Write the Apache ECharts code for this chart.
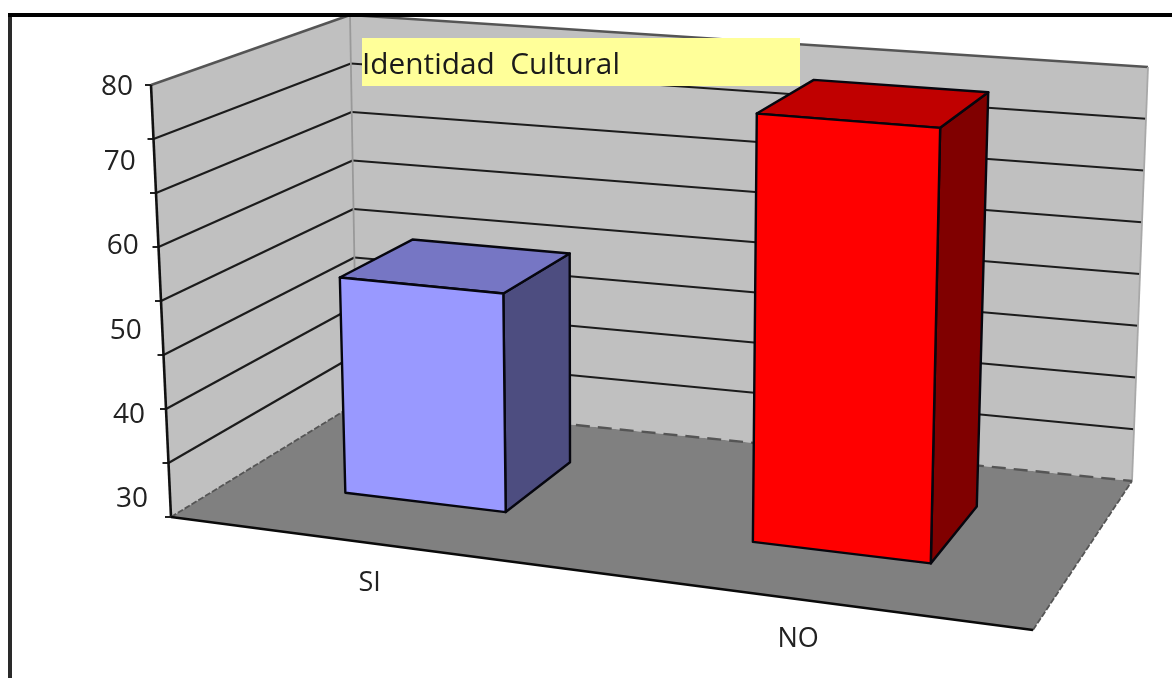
<!DOCTYPE html>
<html><head><meta charset="utf-8">
<script src="https://cdn.jsdelivr.net/npm/echarts@6/dist/echarts.min.js"></script>
<style>html,body{margin:0;padding:0;background:#fff}#c{width:1172px;height:678px;filter:blur(0.7px)}</style>
</head><body><div id="c"></div>
<script>
const titleText = 'Identidad  Cultural';
const categories = ['SI', 'NO'];
const values = [55.5, 78.8];
const yTicks = [30, 40, 50, 60, 70, 80];
const gridIntervals = 8;

// Perspective frame of the 3D box: [u=0,v=0],[u=1,v=0],[u=1,v=1],[u=0,v=1]
const floorCorners = [[171,517],[1033,630],[1132,481],[357,403]];
const topCorners = [[151,85],[1045,159],[1148,67],[350,15]];
const barHalfWidths = [0.105, 0.098], barDepth = [0.305, 0.705], barShift = 0.0115;

function homography(p) {
  const [p0,p1,p2,p3] = p;
  const dx1=p1[0]-p2[0], dx2=p3[0]-p2[0], sx=p0[0]-p1[0]+p2[0]-p3[0];
  const dy1=p1[1]-p2[1], dy2=p3[1]-p2[1], sy=p0[1]-p1[1]+p2[1]-p3[1];
  const den=dx1*dy2-dx2*dy1;
  const g=(sx*dy2-dx2*sy)/den, h=(dx1*sy-sx*dy1)/den;
  const a=p1[0]-p0[0]+g*p1[0], b=p3[0]-p0[0]+h*p3[0], c=p0[0];
  const d=p1[1]-p0[1]+g*p1[1], e=p3[1]-p0[1]+h*p3[1], f=p0[1];
  return (u,v)=>{const q=g*u+h*v+1;return [(a*u+b*v+c)/q,(d*u+e*v+f)/q];};
}
const floorH = homography(floorCorners), topH = homography(topCorners);
function P(u,v,w){const a=floorH(u,v),b=topH(u,v);return [a[0]+(b[0]-a[0])*w,a[1]+(b[1]-a[1])*w];}

const poly=(points,fill,stroke,lw,extra)=>({type:'polygon',shape:{points},style:Object.assign({fill:fill,stroke:stroke||null,lineWidth:lw||0,lineJoin:'round'},extra||{})});
const line=(a,b,stroke,lw,dash)=>({type:'line',shape:{x1:a[0],y1:a[1],x2:b[0],y2:b[1]},style:{stroke,lineWidth:lw,lineDash:dash||null}});

function renderRoom(){
  const ch=[];
  ch.push(poly([P(0,0,0),P(0,0,1),P(0,1,1),P(0,1,0)],'#c0c0c0'));
  ch.push(poly([P(0,1,0),P(0,1,1),P(1,1,1),P(1,1,0)],'#c0c0c0'));
  ch.push(poly([P(0,0,0),P(1,0,0),P(1,1,0),P(0,1,0)],'#808080'));
  for(let i=1;i<gridIntervals;i++){
    const w=i/gridIntervals;
    ch.push(line(P(0,0,w),P(0,1,w),'#1c1c1c',2.2));
    ch.push(line(P(0,1,w),P(1,1,w),'#1c1c1c',2.2));
  }
  for(let i=0;i<=gridIntervals;i++){
    const w=i/gridIntervals, p=P(0,0,w);
    ch.push(line([p[0]-6,p[1]],p,'#222',2));
  }
  ch.push(line(P(0,0,1),P(0,1,1),'#555',2.4));
  ch.push(line(P(0,1,1),P(1,1,1),'#555',2.4));
  ch.push(line(P(0,1,0),P(0,1,1),'#999',1.8));
  ch.push(line(P(1,1,0),P(1,1,1),'#a8a8a8',1.8));
  ch.push(line(P(0,0,0),P(0,0,1),'#111',2.6));
  ch.push(line(P(0,0,0),P(0,1,0),'#555',1.8,[6,2]));
  ch.push(line(P(0,1,0),P(1,1,0),'#555',2.4,[14,8]));
  ch.push(line(P(1,0,0),P(1,1,0),'#555',1.8,[6,2]));
  ch.push(line(P(0,0,0),P(1,0,0),'#0a0a0a',2.6));
  return {type:'group',children:ch};
}

const barColors=[['#9999ff','#7676c4','#4d4d80'],['#ff0000','#c00000','#800000']];
function renderBar(params,api){
  const i=api.value(0), val=api.value(1), cs=params.coordSys, pt=api.coord([i,val]), base=api.coord([i,yTicks[0]]);
  const u=(pt[0]-cs.x)/cs.width+barShift;
  const w=(base[1]-pt[1])/cs.height;
  const u0=u-barHalfWidths[i],u1=u+barHalfWidths[i],v0=barDepth[0],v1=barDepth[1];
  const c=barColors[i], s='#06060e', lw=2.4;
  return {type:'group',children:[
    poly([P(u1,v0,0),P(u1,v0,w),P(u1,v1,w),P(u1,v1,0)],c[2],s,lw),
    poly([P(u0,v0,w),P(u1,v0,w),P(u1,v1,w),P(u0,v1,w)],c[1],s,lw),
    poly([P(u0,v0,0),P(u1,v0,0),P(u1,v0,w),P(u0,v0,w)],c[0],s,lw)
  ]};
}
function renderYLabel(params,api){
  const v=api.value(0), p=api.coord([0,v]);
  const y=Math.max(p[1],85), x=117+(y-85)*15/412;
  return {type:'text',style:{text:String(v),x,y:y+2,align:'center',verticalAlign:'middle',font:'28px "Open Sans"',fill:'#222'}};
}
function renderXLabel(params,api){
  const i=api.value(0), cs=params.coordSys, p=api.coord([i,yTicks[0]]);
  const f=floorH((p[0]-cs.x)/cs.width,0);
  return {type:'text',style:{text:categories[i],x:f[0]+11,y:f[1]+42,align:'center',verticalAlign:'middle',font:'27px "Open Sans"',fill:'#222'}};
}

const option={
  animation:false,
  backgroundColor:'#fff',
  title:{text:titleText,left:362,top:51,padding:0,z:12,textStyle:{fontFamily:'Open Sans',fontSize:29.8,fontWeight:'normal',color:'#1a1a1a'}},
  grid:{left:171,width:862,top:76,height:421},
  xAxis:{type:'category',data:categories,show:false},
  yAxis:{type:'value',min:30,max:80,interval:10,show:false},
  graphic:[
    {type:'rect',z:10,shape:{x:362,y:38,width:438,height:48},style:{fill:'#ffff99'}},
    {type:'rect',z:20,shape:{x:8,y:13,width:4,height:665},style:{fill:'#2a2a2a'}},
    {type:'rect',z:20,shape:{x:8,y:13,width:1164,height:4},style:{fill:'#000'}},
    {type:'rect',z:19,shape:{x:12,y:0,width:1160,height:13},style:{fill:'#fff'}}
  ],
  series:[
    {type:'custom',coordinateSystem:'cartesian2d',z:1,silent:true,renderItem:renderRoom,data:[[0,yTicks[0]]],clip:false},
    {type:'custom',coordinateSystem:'cartesian2d',z:15,silent:true,renderItem:renderBar,data:categories.map((c,i)=>[i,values[i]]),encode:{x:0,y:1},clip:false},
    {type:'custom',coordinateSystem:'cartesian2d',z:16,silent:true,renderItem:renderYLabel,data:yTicks.map(t=>[t]),encode:{y:0},clip:false},
    {type:'custom',coordinateSystem:'cartesian2d',z:16,silent:true,renderItem:renderXLabel,data:categories.map((c,i)=>[i]),encode:{x:0},clip:false}
  ]
};
echarts.init(document.getElementById('c'),null,{renderer:'canvas'}).setOption(option);
</script></body></html>
